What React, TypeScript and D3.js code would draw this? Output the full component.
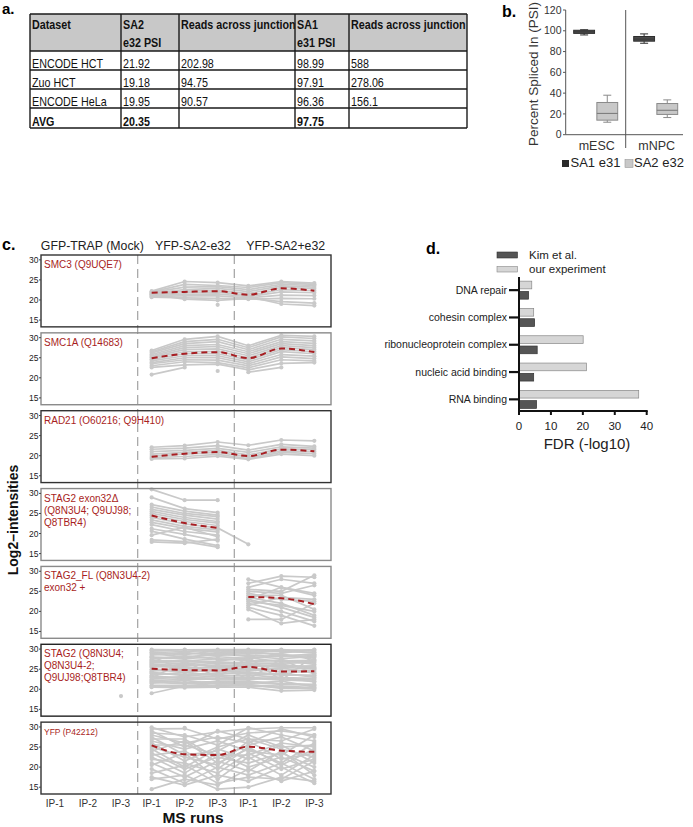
import React from 'react';
import * as d3 from 'd3';

const n = null;
const FONT = 'Liberation Sans, Arial, Helvetica, sans-serif';

// ---- panel a: PSI table
const tableHeader = [['Dataset'], ['SA2', 'e32 PSI'], ['Reads across junction'], ['SA1', 'e31 PSI'], ['Reads across junction']];
const tableRows = [
  ['ENCODE HCT', '21.92', '202.98', '98.99', '588'],
  ['Zuo HCT', '19.18', '94.75', '97.91', '278.06'],
  ['ENCODE HeLa', '19.95', '90.57', '96.36', '156.1'],
];
const avgRow = ['AVG', '20.35', '', '97.75', ''];

// ---- panel b: PSI boxplots  [min, q1, median, q3, max]
const psiCells = ['mESC', 'mNPC'];
const psiSeries = ['SA1 e31', 'SA2 e32'];
const sa1Boxes = [[96, 97.5, 99, 100.5, 101], [88, 90, 92, 94.5, 97]];
const sa2Boxes = [[12, 14, 20.5, 31, 38], [16.5, 19.5, 23.5, 30, 33.5]];
const psiTicks = [0, 20, 40, 60, 80, 100, 120];

// ---- panel d: GO enrichment
const goTerms = ['DNA repair', 'cohesin complex', 'ribonucleoprotein complex', 'nucleic acid binding', 'RNA binding'];
const kimFdr = [3.0, 4.9, 5.7, 4.6, 5.5];
const ourFdr = [4.0, 4.6, 20.1, 21.1, 37.5];
const fdrTicks = [0, 10, 20, 30, 40];

// ---- panel c: MS intensities
const groups = ['GFP-TRAP (Mock)', 'YFP-SA2-e32', 'YFP-SA2+e32'];
const runs = ['IP-1', 'IP-2', 'IP-3'];
const intensityTicks = [15, 20, 25, 30];

const proteinLabels = [
  ['SMC3 (Q9UQE7)'],
  ['SMC1A (Q14683)'],
  ['RAD21 (O60216; Q9H410)'],
  ['STAG2 exon32\u0394', '(Q8N3U4; Q9UJ98;', 'Q8TBR4)'],
  ['STAG2_FL (Q8N3U4-2)', 'exon32 +'],
  ['STAG2 (Q8N3U4;', 'Q8N3U4-2;', 'Q9UJ98;Q8TBR4)'],
  ['YFP (P42212)'],
];

const smc3Lines = [
  [n, n, n, 22.2, 24.6, 24.3, 23.5, 24.6, 24.2],
  [n, n, n, 22.0, 23.9, 23.6, 23.1, 24.3, 23.9],
  [n, n, n, 21.9, 23.2, 23.3, 22.6, 23.9, 23.6],
  [n, n, n, 21.7, 22.6, 22.9, 22.1, 23.5, 23.2],
  [n, n, n, 21.5, 22.2, 22.4, 21.6, 23.1, 22.8],
  [n, n, n, 21.3, 21.8, 22.0, 21.1, 22.6, 22.3],
  [n, n, n, 21.1, 21.4, 21.5, 20.8, 22.0, 21.8],
  [n, n, n, 20.9, 21.0, 21.0, 20.5, 21.2, 21.1],
  [n, n, n, 20.7, 20.5, 20.4, 20.2, 20.4, 20.3],
  [n, n, n, 21.4, 20.2, 19.9, 20.4, 19.6, 19.2],
  [n, n, n, n, n, 18.8, n, n, n],
  [n, n, n, n, n, n, 20.8, 19.0, 18.6],
];
const smc3Mean = [n, n, n, 21.8, 22.0, 22.2, 21.3, 22.9, 22.3];

const smc1aLines = [
  [n, n, n, 26.8, 29.6, 30.3, 28.0, 30.6, 30.3],
  [n, n, n, 26.5, 29.0, 29.6, 27.5, 30.2, 29.8],
  [n, n, n, 26.2, 28.5, 29.0, 27.0, 29.6, 29.2],
  [n, n, n, 25.8, 28.0, 28.3, 26.5, 29.0, 28.6],
  [n, n, n, 25.5, 27.5, 27.8, 26.0, 28.5, 28.0],
  [n, n, n, 25.2, 27.0, 27.2, 25.5, 28.0, 27.5],
  [n, n, n, 25.0, 26.5, 26.6, 25.0, 27.5, 27.0],
  [n, n, n, 24.6, 26.0, 26.0, 24.5, 27.0, 26.5],
  [n, n, n, 24.2, 25.5, 25.5, 24.0, 26.5, 26.0],
  [n, n, n, 23.8, 25.0, 25.0, 23.5, 25.8, 25.4],
  [n, n, n, 23.5, 24.5, 24.4, 23.0, 25.2, 24.8],
  [n, n, n, 23.0, 24.0, 23.8, 22.5, 24.5, 24.2],
  [n, n, n, 22.6, 23.2, 23.4, 22.0, 23.6, 23.8],
  [n, n, n, 20.8, 22.6, n, 21.4, 22.6, n],
  [n, n, n, n, n, 21.7, n, n, n],
];
const smc1aMean = [n, n, n, 24.9, 26.0, 26.4, 24.9, 27.3, 26.4];

const rad21Lines = [
  [n, n, n, 22.1, 22.5, 23.4, 22.6, 23.9, 23.7],
  [n, n, n, 21.6, 21.9, 22.5, 21.4, 22.8, 22.3],
  [n, n, n, 21.0, 21.3, 21.8, 20.8, 22.2, 21.9],
  [n, n, n, 20.4, 20.8, 21.3, 20.2, 21.7, 21.5],
  [n, n, n, 19.9, 20.4, 20.8, 19.7, 21.2, 21.0],
  [n, n, n, 19.5, 19.8, 20.3, 19.3, 20.8, 20.5],
  [n, n, n, 19.2, 19.3, 19.9, 19.1, 20.4, 20.0],
];
const rad21Mean = [n, n, n, 19.7, 20.5, 20.9, 19.9, 21.5, 21.1];

const stag2DeltaLines = [
  [n, n, n, 31.0, 28.3, 28.3, n, n, n],
  [n, n, n, 29.0, 26.2, 25.2, n, n, n],
  [n, n, n, 27.2, 25.6, 24.6, n, n, n],
  [n, n, n, 26.6, 25.0, 24.2, n, n, n],
  [n, n, n, 26.0, 24.6, 23.6, n, n, n],
  [n, n, n, 25.5, 24.0, 23.0, n, n, n],
  [n, n, n, 25.0, 23.5, 22.6, n, n, n],
  [n, n, n, 24.5, 23.0, 22.0, n, n, n],
  [n, n, n, 24.0, 22.4, 21.4, 17.3, n, n],
  [n, n, n, 23.4, 21.8, 20.9, n, n, n],
  [n, n, n, 22.8, 21.3, 20.4, n, n, n],
  [n, n, n, 22.2, 20.5, 19.6, n, n, n],
  [n, n, n, 21.2, 19.8, 18.2, n, n, n],
  [n, n, n, 20.6, 18.6, 17.0, n, n, n],
  [n, n, n, 19.6, 21.6, 19.2, n, n, n],
  [n, n, n, 18.4, 18.0, 16.6, n, n, n],
  [n, n, n, 17.9, 17.6, 18.6, n, n, n],
];
const stag2DeltaMean = [n, n, n, 24.5, 22.6, 21.4, n, n, n];

const stag2FlLines = [
  [n, n, n, n, n, n, 28.0, 26.0, 24.5],
  [n, n, n, n, n, n, 27.0, 28.8, 28.5],
  [n, n, n, n, n, n, 26.0, 28.0, 27.0],
  [n, n, n, n, n, n, 25.5, 25.0, 29.0],
  [n, n, n, n, n, n, 25.0, 24.5, 26.5],
  [n, n, n, n, n, n, 24.5, 23.0, 22.5],
  [n, n, n, n, n, n, 24.0, 24.0, 20.5],
  [n, n, n, n, n, n, 23.5, 22.0, 19.0],
  [n, n, n, n, n, n, 23.0, 26.0, 24.0],
  [n, n, n, n, n, n, 22.5, 21.5, 20.0],
  [n, n, n, n, n, n, 22.0, 20.0, 17.5],
  [n, n, n, n, n, n, 21.5, 23.5, 23.0],
  [n, n, n, n, n, n, 21.0, 19.0, 16.4],
  [n, n, n, n, n, n, 20.5, 17.0, 18.0],
  [n, n, n, n, n, n, 18.0, 18.0, 22.0],
  [n, n, n, n, n, n, 23.0, 21.0, 18.5],
];
const stag2FlMean = [n, n, n, n, n, n, 23.6, 23.3, 21.8];

const stag2Lines = [
  [n, n, n, 29.9, 29.8, 29.9, 29.9, 29.7, 29.8],
  [n, n, n, 29.7, 29.4, 29.7, 29.7, 29.4, 29.2],
  [n, n, n, 29.5, 29.9, 29.2, 29.4, 29.9, 29.5],
  [n, n, n, 29.2, 28.9, 28.9, 29.1, 29.6, 29.0],
  [n, n, n, 29.0, 28.6, 29.6, 28.8, 29.0, 29.9],
  [n, n, n, 28.8, 28.1, 28.6, 28.5, 28.1, 28.4],
  [n, n, n, 28.5, 29.2, 28.3, 29.6, 28.4, 28.7],
  [n, n, n, 28.0, 27.8, 28.8, 28.2, 27.6, 28.2],
  [n, n, n, 27.8, 27.6, 28.1, 27.7, 28.3, 27.9],
  [n, n, n, 27.5, 28.3, 27.5, 27.5, 28.8, 27.4],
  [n, n, n, 27.2, 27.0, 27.6, 27.1, 27.1, 27.2],
  [n, n, n, 27.0, 26.8, 27.0, 27.9, 26.8, 26.9],
  [n, n, n, 26.7, 26.4, 26.8, 26.5, 26.5, 26.6],
  [n, n, n, 26.5, 27.3, 26.3, 26.8, 27.3, 26.2],
  [n, n, n, 26.2, 25.9, 26.0, 26.0, 25.9, 25.5],
  [n, n, n, 26.0, 25.7, 26.6, 26.2, 25.7, 25.8],
  [n, n, n, 25.7, 25.4, 25.3, 25.8, 25.5, 25.0],
  [n, n, n, 25.5, 26.2, 25.6, 25.6, 26.2, 25.2],
  [n, n, n, 25.0, 24.7, 25.0, 25.2, 24.8, 24.6],
  [n, n, n, 24.8, 24.3, 24.7, 24.9, 24.3, 24.3],
  [n, n, n, 24.5, 25.2, 24.4, 24.6, 25.3, 24.0],
  [n, n, n, 24.2, 23.4, 23.7, 24.3, 23.7, 23.3],
  [n, n, n, 24.0, 23.7, 24.0, 24.0, 23.5, 23.5],
  [n, n, n, 23.5, 24.2, 23.4, 23.4, 24.0, 23.0],
  [n, n, n, 23.2, 22.9, 23.2, 23.6, 22.9, 22.7],
  [n, n, n, 23.0, 22.7, 22.8, 23.0, 22.5, 22.4],
  [n, n, n, 22.5, 23.2, 22.3, 22.4, 23.0, 21.8],
  [n, n, n, 22.2, 22.4, 22.6, 22.7, 22.3, 22.0],
  [n, n, n, 22.0, 21.7, 21.9, 22.0, 21.4, 21.2],
  [n, n, n, 21.7, 21.4, 21.6, 21.7, 21.2, 21.0],
  [n, n, n, 21.5, 22.2, 21.3, 21.4, 22.0, 20.6],
  [n, n, n, 21.0, 21.0, 20.9, 20.8, 20.5, 20.1],
  [n, n, n, 20.7, 20.8, 20.6, 21.2, 20.2, 20.3],
  [n, n, n, 20.5, 20.4, 20.5, 20.5, 19.6, 19.8],
  [n, n, n, 19.0, 20.8, 21.5, 21.0, 20.8, 20.4],
  [n, n, n, 28.2, 24.5, 26.0, 22.5, 27.5, 23.8],
  [n, n, n, 22.8, 27.0, 23.0, 28.0, 22.2, 28.5],
  [n, n, 18.3, n, n, n, n, n, n],
];
const stag2Mean = [n, n, n, 25.1, 24.8, 24.7, 25.6, 24.4, 24.5];

const yfpLines = [
  [n, n, n, 29.9, 27.5, 28.8, 29.5, 29.8, 29.8],
  [n, n, n, 29.5, 29.6, 27.0, 28.5, 29.0, 28.0],
  [n, n, n, 29.0, 25.0, 29.0, 27.0, 26.5, 29.5],
  [n, n, n, 28.5, 28.0, 25.5, 29.8, 28.0, 26.5],
  [n, n, n, 28.0, 26.0, 27.5, 26.0, 29.5, 27.5],
  [n, n, n, 27.5, 23.0, 24.0, 28.0, 25.0, 25.5],
  [n, n, n, 27.0, 27.0, 22.0, 25.5, 27.5, 24.0],
  [n, n, n, 26.5, 24.5, 26.5, 24.0, 23.0, 28.0],
  [n, n, n, 26.0, 21.5, 25.0, 27.0, 24.5, 22.5],
  [n, n, n, 25.5, 25.5, 23.0, 23.0, 26.0, 25.0],
  [n, n, n, 25.0, 22.5, 20.5, 26.5, 22.0, 23.5],
  [n, n, n, 24.5, 20.0, 24.5, 22.0, 25.5, 21.0],
  [n, n, n, 24.0, 26.5, 21.0, 24.5, 21.0, 26.0],
  [n, n, n, 23.5, 19.5, 22.5, 21.0, 23.5, 20.0],
  [n, n, n, 23.0, 24.0, 19.5, 25.0, 20.5, 24.5],
  [n, n, n, 22.5, 18.5, 23.5, 20.0, 22.5, 19.0],
  [n, n, n, 22.0, 21.0, 18.5, 23.5, 19.5, 22.0],
  [n, n, n, 21.0, 17.5, 21.5, 19.0, 24.0, 18.0],
  [n, n, n, 20.5, 23.5, 17.0, 22.5, 18.0, 23.0],
  [n, n, n, 19.5, 16.0, 20.0, 18.0, 21.0, 17.0],
  [n, n, n, 18.5, 20.5, 16.0, 17.5, 17.0, 21.5],
  [n, n, n, 17.5, 15.5, 18.0, 16.5, 20.0, 16.0],
  [n, n, n, 17.0, 18.0, 14.5, 15.0, 17.5, 16.5],
  [n, n, n, 14.5, 17.0, 15.5, 19.5, 16.5, 19.0],
  [n, n, n, n, 29.8, n, n, n, n],
];
const yfpMean = [n, n, n, 25.4, 23.2, 23.0, 25.1, 24.1, 23.8];

const panelLines = [smc3Lines, smc1aLines, rad21Lines, stag2DeltaLines, stag2FlLines, stag2Lines, yfpLines];
const panelMeans = [smc3Mean, smc1aMean, rad21Mean, stag2DeltaMean, stag2FlMean, stag2Mean, yfpMean];
const panelBorders = ['#333', '#8a8a8a', '#333', '#8a8a8a', '#8a8a8a', '#222', '#333'];

const RED = '#a81e22';
const GRAY = '#c9c9c9';

function PanelA() {
  const colEdges = [30, 121, 179, 295, 349, 467];
  const rowEdges = [14, 51, 70, 89, 108, 128];
  const cell = (txt: string, x: number, y: number, bold: boolean, key: string) => (
    <text key={key} transform={`translate(${x},${y}) scale(0.79,1)`} fontSize={13.6}
      fontWeight={bold ? 'bold' : 'normal'} fill="#111">{txt}</text>
  );
  return (
    <g fontFamily={FONT}>
      <text x={2} y={14} fontSize={15} fontWeight="bold">a.</text>
      <rect x={colEdges[0]} y={rowEdges[0]} width={colEdges[5] - colEdges[0]} height={rowEdges[1] - rowEdges[0]} fill="#c8c8c8" />
      {tableHeader.map((lines, i) => lines.map((l, j) => cell(l, colEdges[i] + 2, 29 + j * 18, true, `h${i}${j}`)))}
      {[...tableRows, avgRow].map((row, r) => row.map((v, c) =>
        cell(v, colEdges[c] + 2, rowEdges[r + 2] - 2.5, r === tableRows.length, `r${r}${c}`)))}
      {rowEdges.map((y, i) => <line key={`hl${i}`} x1={colEdges[0]} x2={colEdges[5]} y1={y} y2={y} stroke="#1a1a1a" strokeWidth={1.4} />)}
      {colEdges.map((x, i) => <line key={`vl${i}`} x1={x} x2={x} y1={rowEdges[0]} y2={rowEdges[5]} stroke="#1a1a1a" strokeWidth={1.4} />)}
    </g>
  );
}

function PanelB() {
  const y = d3.scaleLinear().domain([0, 120]).range([134.7, 10]);
  const cellX = d3.scaleBand<string>().domain(psiCells).range([565.7, 685.7]);
  const serX = d3.scaleBand<string>().domain(psiSeries).range([8, 52]).paddingInner(0.1);
  const boxes = [sa1Boxes, sa2Boxes];
  const styles = [
    { fill: '#4a4a4a', stroke: '#2e2e2e', med: '#3a3a3a' },
    { fill: '#c8c8c8', stroke: '#8a8a8a', med: '#777' },
  ];
  return (
    <g fontFamily={FONT}>
      <text x={502} y={17} fontSize={16} fontWeight="bold">b.</text>
      <text transform={`translate(538,74) rotate(-90)`} textAnchor="middle" fontSize={13.5} fill="#333">Percent Spliced In (PSI)</text>
      {psiTicks.map(t => (
        <g key={t}>
          <line x1={563} x2={565.7} y1={y(t)} y2={y(t)} stroke="#555" />
          <text x={561.5} y={y(t)} dy="0.35em" textAnchor="end" fontSize={10.5} fill="#333">{t}</text>
        </g>
      ))}
      <line x1={565.7} x2={565.7} y1={y(120)} y2={y(0)} stroke="#555" />
      <line x1={565.7} x2={683} y1={y(0)} y2={y(0)} stroke="#555" />
      <line x1={cellX('mNPC')!} x2={cellX('mNPC')!} y1={y(120)} y2={148} stroke="#555" />
      {psiCells.map(c => (
        <text key={c} x={cellX(c)! + cellX.bandwidth() / 2 + 1} y={150} textAnchor="middle" fontSize={12.5} fill="#333">{c}</text>
      ))}
      {boxes.map((set, s) => set.map((b, ci) => {
        const x0 = cellX(psiCells[ci])! + serX(psiSeries[s])!;
        const w = serX.bandwidth();
        const cx = x0 + w / 2;
        const st = styles[s];
        return (
          <g key={`${s}${ci}`}>
            <line x1={cx} x2={cx} y1={y(b[0])} y2={y(b[1])} stroke={st.stroke} />
            <line x1={cx} x2={cx} y1={y(b[3])} y2={y(b[4])} stroke={st.stroke} />
            <line x1={cx - 4} x2={cx + 4} y1={y(b[0])} y2={y(b[0])} stroke={st.stroke} />
            <line x1={cx - 4} x2={cx + 4} y1={y(b[4])} y2={y(b[4])} stroke={st.stroke} />
            <rect x={x0} y={y(b[3])} width={w} height={y(b[1]) - y(b[3])} fill={st.fill} stroke={st.stroke} />
            <line x1={x0} x2={x0 + w} y1={y(b[2])} y2={y(b[2])} stroke={st.med} />
          </g>
        );
      }))}
      <rect x={562} y={160} width={7} height={7} fill="#2b2b2b" />
      <text x={570.5} y={167} fontSize={13} fill="#222">{psiSeries[0]}</text>
      <rect x={625} y={159.5} width={8} height={8} fill="#c8c8c8" stroke="#999" strokeWidth={0.6} />
      <text x={634} y={167} fontSize={13} fill="#222">{psiSeries[1]}</text>
    </g>
  );
}

function PanelD() {
  const x = d3.scaleLinear().domain([0, 40]).range([519, 646.7]);
  const yb = d3.scaleBand<string>().domain(goTerms).range([276.5, 413]);
  const inner = d3.scaleBand<string>().domain(['our', 'kim']).range([-9, 9]).paddingInner(0.25);
  const axisBottom = 411;
  return (
    <g fontFamily={FONT}>
      <text x={426} y={254} fontSize={16} fontWeight="bold">d.</text>
      <rect x={497} y={252} width={20.5} height={6} fill="#555" stroke="#333" strokeWidth={0.6} />
      <text x={529} y={258.5} fontSize={11.5} fill="#222">Kim et al.</text>
      <rect x={497} y={266.5} width={20.5} height={5.5} fill="#d6d6d6" stroke="#888" strokeWidth={0.6} />
      <text x={529} y={273} fontSize={11.5} fill="#222">our experiment</text>
      {goTerms.map((t, i) => {
        const cy = yb(t)! + yb.bandwidth() / 2;
        return (
          <g key={t}>
            <rect x={x(0)} y={cy + inner('our')!} width={x(ourFdr[i]) - x(0)} height={inner.bandwidth()} fill="#d6d6d6" stroke="#888" strokeWidth={0.7} />
            <rect x={x(0)} y={cy + inner('kim')!} width={x(kimFdr[i]) - x(0)} height={inner.bandwidth()} fill="#555" stroke="#333" strokeWidth={0.7} />
            <line x1={509} x2={519} y1={cy} y2={cy} stroke="#111" strokeWidth={2.2} />
            <text x={507} y={cy} dy="0.35em" textAnchor="end" fontSize={10.5} fill="#222">{t}</text>
          </g>
        );
      })}
      <line x1={519} x2={519} y1={277} y2={axisBottom + 1} stroke="#111" strokeWidth={2} />
      <line x1={518} x2={x(40) + 1} y1={axisBottom} y2={axisBottom} stroke="#111" strokeWidth={2} />
      {fdrTicks.map(t => (
        <g key={t}>
          <line x1={x(t)} x2={x(t)} y1={axisBottom} y2={axisBottom + 4} stroke="#111" strokeWidth={2} />
          <text x={x(t)} y={430} textAnchor="middle" fontSize={11.5} fill="#222">{t}</text>
        </g>
      ))}
      <text x={587} y={448.5} textAnchor="middle" fontSize={15} fill="#222">FDR (-log10)</text>
    </g>
  );
}

function PanelC() {
  const groupX = d3.scaleBand<string>().domain(groups).range([41, 331]);
  const runX = d3.scalePoint<string>().domain(runs).range([14, 80]);
  const xOf = (i: number) => groupX(groups[Math.floor(i / 3)])! + runX(runs[i % 3])!;
  const panelY = d3.scaleBand<number>().domain(d3.range(7)).range([255, 794]).paddingInner(0.077);
  const h = panelY.bandwidth();
  const y = d3.scaleLinear().domain([13.3, 31.2]).range([h, 0]);
  const line = d3.line<number | null>()
    .defined(v => v != null)
    .x((_, i) => xOf(i))
    .y(v => y(v as number));
  const meanLine = d3.line<number | null>()
    .defined(v => v != null)
    .x((_, i) => xOf(i))
    .y(v => y(v as number))
    .curve(d3.curveMonotoneX);
  const top = panelY(0)!;
  const bottom = panelY(6)! + h;
  const headerShift = [3, 7, 3];
  return (
    <g fontFamily={FONT}>
      <text x={2} y={250} fontSize={16} fontWeight="bold">c.</text>
      {groups.map((g, gi) => (
        <text key={g} x={groupX(g)! + groupX.bandwidth() / 2 + headerShift[gi]} y={250} textAnchor="middle" fontSize={12.3} fill="#222">{g}</text>
      ))}
      <text transform={`translate(18,520) rotate(-90)`} textAnchor="middle" fontSize={14} fontWeight="bold" fill="#111">Log2–intensities</text>
      {panelLines.map((lines, p) => {
        const py = panelY(p)!;
        return (
          <g key={p} transform={`translate(0,${py})`}>
            <rect x={41} y={0} width={290} height={h} fill="#fff" />
            {lines.map((l, k) => <path key={k} d={line(l) || ''} fill="none" stroke={GRAY} strokeWidth={1.7} />)}
            {lines.map((l, k) => l.map((v, i) => v == null ? null :
              <circle key={`${k}-${i}`} cx={xOf(i)} cy={y(v)} r={2.1} fill={GRAY} />))}
          </g>
        );
      })}
      {groups.slice(1).map(g => (
        <line key={g} x1={groupX(g)!} x2={groupX(g)!} y1={top} y2={bottom} stroke="#a9a9a9" strokeWidth={1.3} strokeDasharray="9,5" />
      ))}
      {panelMeans.map((m, p) => (
        <path key={p} transform={`translate(0,${panelY(p)!})`} d={meanLine(m) || ''} fill="none" stroke={RED} strokeWidth={2} strokeDasharray="6,4" />
      ))}
      {panelLines.map((_, p) => {
        const py = panelY(p)!;
        return (
          <g key={p} transform={`translate(0,${py})`}>
            <rect x={41} y={0} width={290} height={h} fill="none" stroke={panelBorders[p]} strokeWidth={1.4} />
            {intensityTicks.map(t => (
              <g key={t}>
                <line x1={39} x2={41} y1={y(t)} y2={y(t)} stroke="#444" />
                <text x={38.5} y={y(t)} dy="0.35em" textAnchor="end" fontSize={8.5} fill="#222">{t}</text>
              </g>
            ))}
            {proteinLabels[p].map((l, j) => (
              <text key={j} x={44} y={13 + j * 12} fontSize={p === 6 ? 8.5 : 10} fill={RED}>{l}</text>
            ))}
          </g>
        );
      })}
      {groups.map((_, gi) => runs.map((r, ri) => (
        <text key={`${gi}${ri}`} x={xOf(gi * 3 + ri)} y={807} textAnchor="middle" fontSize={10} fill="#333">{r}</text>
      )))}
      <text x={193} y={823} textAnchor="middle" fontSize={15.5} fontWeight="bold" fill="#111">MS runs</text>
    </g>
  );
}

export default function App() {
  return (
    <svg width={693} height={827} viewBox="0 0 693 827" style={{ position: 'absolute', left: 0, top: 0, background: '#fff' }}>
      <rect x={0} y={0} width={693} height={827} fill="#fff" />
      <PanelA />
      <PanelB />
      <PanelC />
      <PanelD />
    </svg>
  );
}
